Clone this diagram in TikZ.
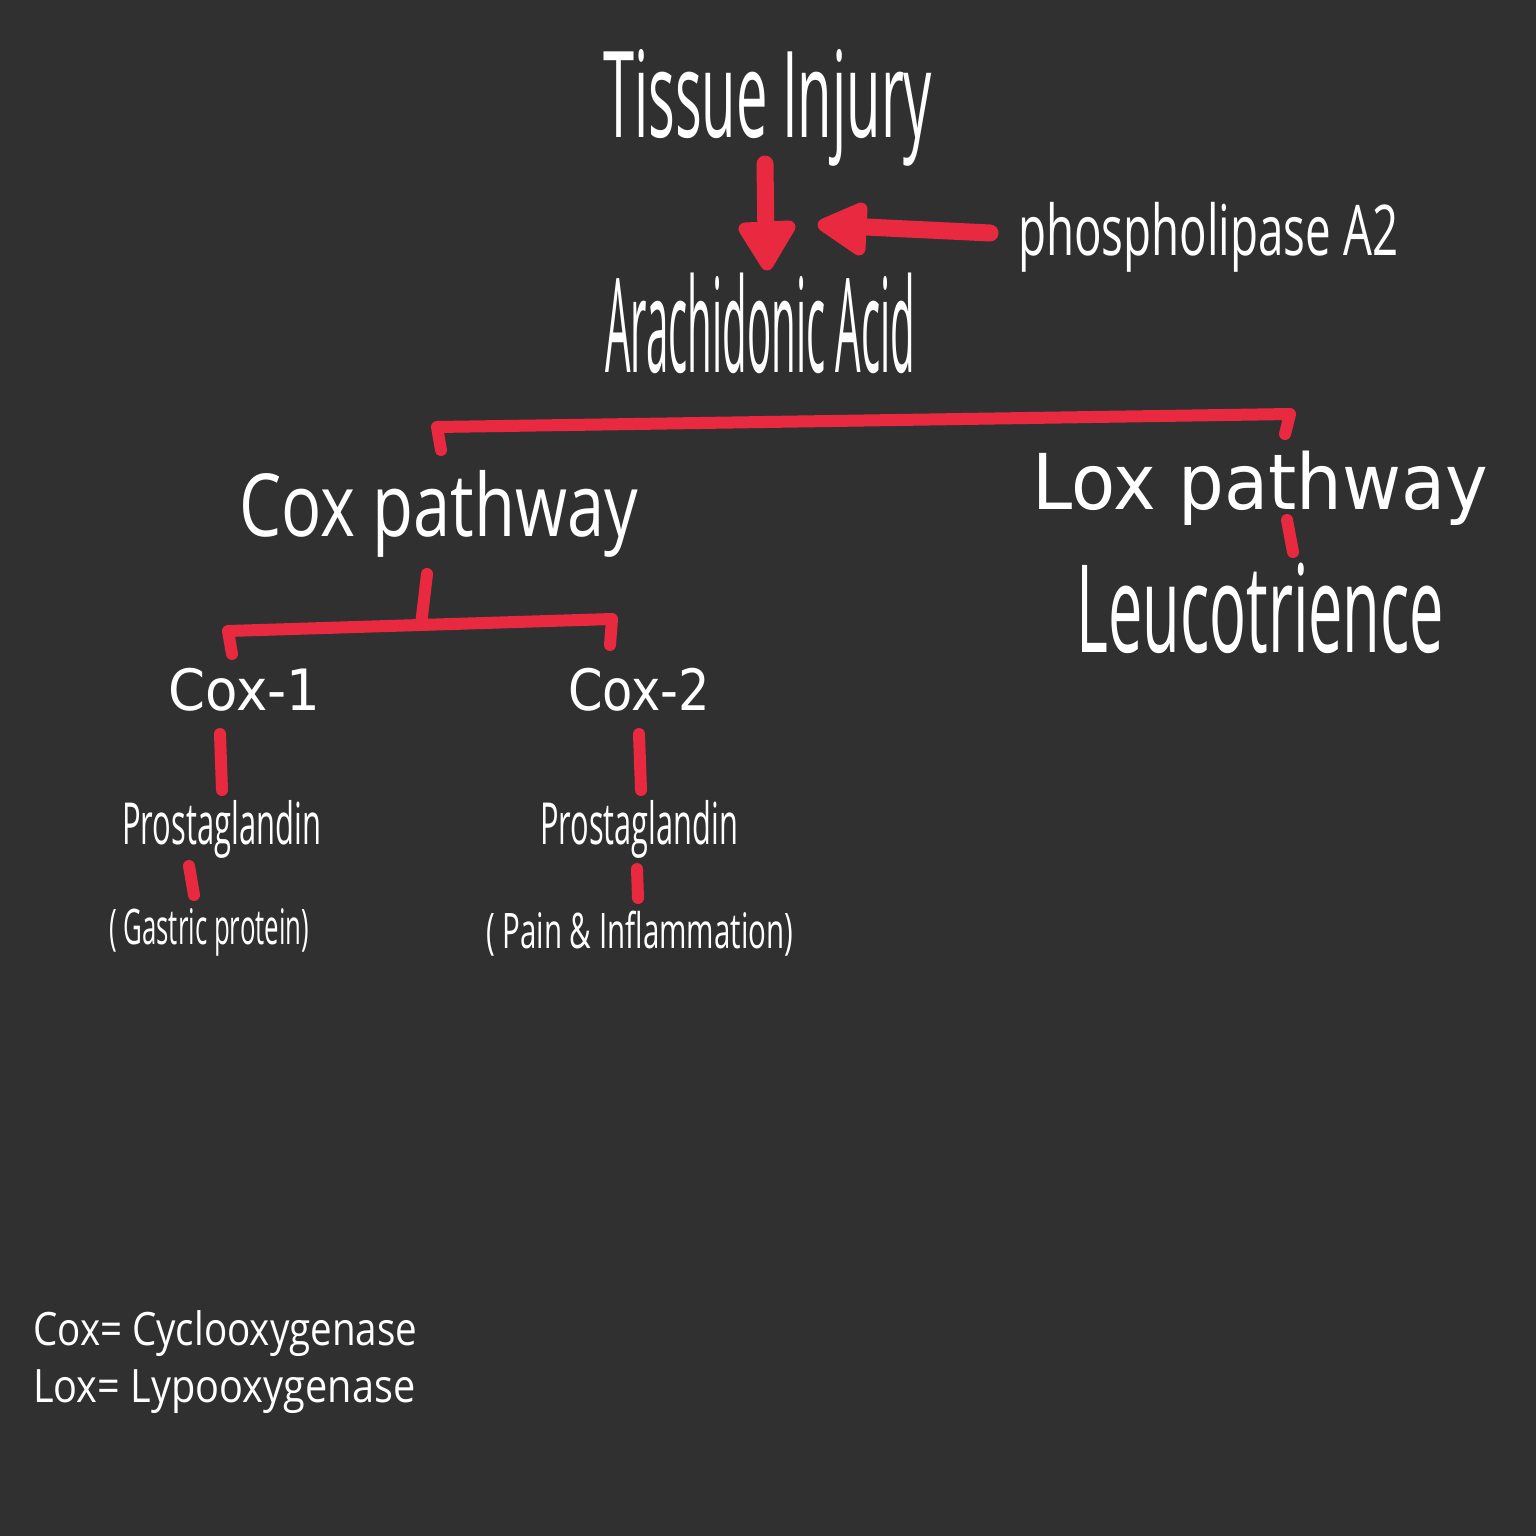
\documentclass[tikz,border=0pt]{standalone}
\usepackage{fontspec}
\usepackage{graphicx}
\newfontfamily\osans{Open Sans}
\newfontfamily\dvsans{DejaVu Sans}
\definecolor{bg}{RGB}{48,48,48}
\definecolor{ink}{RGB}{232,41,64}
\newcommand\fw[2]{\resizebox{#1}{\height}{#2}}
\begin{document}
\begin{tikzpicture}[x=1pt,y=-1pt,
  txt/.style={text=white, inner sep=0pt, anchor=base west},
  redline/.style={draw=ink, line width=12pt, line cap=round, line join=round},
  arrowshaft/.style={draw=ink, line width=17pt, line cap=round},
  arrowhead/.style={fill=ink, draw=ink, line width=13pt, line join=round}]
\fill[bg] (0,0) rectangle (1536,1536);
\useasboundingbox (0,0) rectangle (1536,1536);

% texts
\node[txt] (tissue) at (603,138) {\osans\fontsize{120}{120}\selectfont\fw{329pt}{Tissue Injury}};
\node[txt] (arach) at (605,372) {\osans\fontsize{131}{131}\selectfont\fw{310pt}{Arachidonic Acid}};
\node[txt] (phos) at (1018,255) {\osans\fontsize{70}{70}\selectfont\fw{380pt}{phospholipase A2}};
\node[txt] (coxp) at (239,536) {\osans\fontsize{87}{87}\selectfont\fw{399pt}{Cox pathway}};
\node[txt] (loxp) at (1032,509) {\dvsans\fontsize{77}{77}\selectfont\fw{456pt}{Lox pathway}};
\node[txt] (leuco) at (1076,652) {\osans\fontsize{122}{122}\selectfont\fw{368pt}{Leucotrience}};
\node[txt] (cox1) at (168,710) {\dvsans\fontsize{57}{57}\selectfont\fw{152pt}{Cox-1}};
\node[txt] (cox2) at (568,710) {\dvsans\fontsize{57}{57}\selectfont\fw{142pt}{Cox-2}};
\node[txt] (pg1) at (122,844) {\osans\fontsize{58}{58}\selectfont\fw{199pt}{Prostaglandin}};
\node[txt] (pg2) at (540,844) {\osans\fontsize{58}{58}\selectfont\fw{198pt}{Prostaglandin}};
\node[txt] (gast) at (109,944) {\osans\fontsize{49}{49}\selectfont\fw{200pt}{( Gastric protein)}};
\node[txt] (pain) at (486,948) {\osans\fontsize{49}{49}\selectfont\fw{307pt}{( Pain \& Inflammation)}};
\node[txt] (leg1) at (33,1345) {\osans\fontsize{46}{46}\selectfont\fw{384pt}{Cox= Cyclooxygenase}};
\node[txt] (leg2) at (33,1402) {\osans\fontsize{46}{46}\selectfont\fw{382pt}{Lox= Lypooxygenase}};

% arrow: tissue -> arachidonic
\coordinate (d1) at (765,164);
\coordinate (d2) at (766,240);
\draw[arrowshaft] (d1) -- (d2);
\filldraw[arrowhead] (745,229) -- (789,227) -- (767,264) -- cycle;
% arrow: phospholipase -> reaction
\coordinate (l1) at (990,233);
\coordinate (l2) at (845,226);
\draw[arrowshaft] (l1) -- (l2);
\filldraw[arrowhead] (824,225) -- (861,209) -- (859,249) -- cycle;

% branch to Cox / Lox
\coordinate (b1) at (441,450);
\coordinate (b2) at (437,427);
\coordinate (b3) at (1290,414);
\coordinate (b4) at (1285,434);
\draw[redline] (b1) -- (b2) -- (b3) -- (b4);
\coordinate (lx1) at (1287,520);
\coordinate (lx2) at (1293,552);
\draw[redline] (lx1) -- (lx2);

% Cox pathway branch
\coordinate (c0) at (427,574);
\coordinate (c0b) at (421,625);
\draw[redline] (c0) -- (c0b);
\coordinate (c1) at (232,654);
\coordinate (c2) at (228,631);
\coordinate (c3) at (612,619);
\coordinate (c4) at (610,645);
\draw[redline] (c1) -- (c2) -- (c3) -- (c4);

% Cox-1 / Cox-2 lines
\coordinate (p1a) at (220,734);
\coordinate (p1b) at (222,790);
\draw[redline] (p1a) -- (p1b);
\coordinate (p2a) at (639,734);
\coordinate (p2b) at (641,790);
\draw[redline] (p2a) -- (p2b);
\coordinate (g1a) at (189,866);
\coordinate (g1b) at (194,895);
\draw[redline] (g1a) -- (g1b);
\coordinate (g2a) at (637,869);
\coordinate (g2b) at (638,898);
\draw[redline] (g2a) -- (g2b);
\end{tikzpicture}
\end{document}
